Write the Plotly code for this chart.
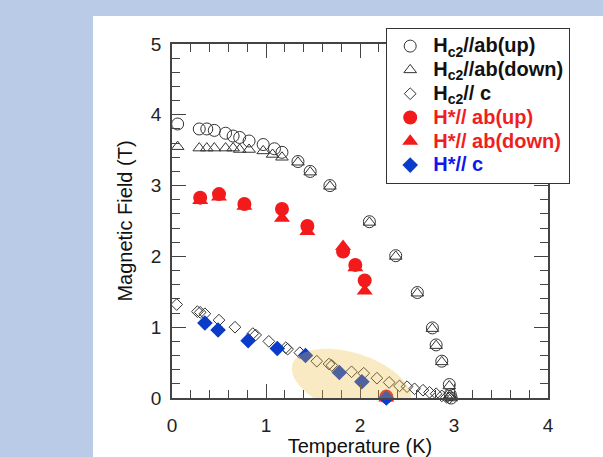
import numpy as np
import plotly.graph_objects as go

# ---------------- data ----------------
hc2_ab_up_T = [0.06, 0.29, 0.37, 0.45, 0.57, 0.65, 0.72, 0.82, 0.97, 1.09, 1.17,
               1.34, 1.47, 1.68, 2.10, 2.38, 2.61, 2.77, 2.81, 2.87, 2.95, 2.96, 2.97]
hc2_ab_up_H = [3.87, 3.80, 3.80, 3.78, 3.74, 3.70, 3.68, 3.63, 3.58, 3.52, 3.47,
               3.34, 3.20, 3.00, 2.49, 2.01, 1.49, 0.99, 0.75, 0.52, 0.19, 0.05, 0.0]

hc2_ab_down_T = [0.06, 0.29, 0.37, 0.45, 0.57, 0.65, 0.72, 0.82, 0.97, 1.07, 1.17,
                 1.34, 1.47, 1.68, 2.10, 2.38, 2.61, 2.77, 2.81, 2.87, 2.95, 2.96, 2.97]
hc2_ab_down_H = [3.55, 3.53, 3.53, 3.53, 3.53, 3.53, 3.51, 3.51, 3.49, 3.44, 3.40,
                 3.33, 3.19, 2.99, 2.48, 2.00, 1.48, 0.98, 0.74, 0.51, 0.17, 0.04, 0.0]

hc2_c_T = [0.05, 0.27, 0.30, 0.35, 0.50, 0.67, 0.86, 0.89, 1.03, 1.21, 1.23, 1.36,
           1.54, 1.67, 1.70, 1.91, 2.04, 2.18, 2.31, 2.42, 2.50, 2.58, 2.67, 2.74,
           2.81, 2.87, 2.92, 2.95]
hc2_c_H = [1.32, 1.22, 1.21, 1.19, 1.10, 1.00, 0.91, 0.89, 0.80, 0.71, 0.69, 0.64,
           0.52, 0.48, 0.46, 0.37, 0.35, 0.28, 0.22, 0.17, 0.16, 0.13, 0.11, 0.08,
           0.06, 0.03, 0.01, 0.0]

hs_ab_up_T = [0.30, 0.50, 0.77, 1.17, 1.44, 1.82, 1.95, 2.05, 2.28]
hs_ab_up_H = [2.83, 2.88, 2.74, 2.67, 2.43, 2.07, 1.88, 1.66, 0.02]

hs_ab_down_T = [0.30, 0.50, 0.77, 1.17, 1.44, 1.82, 1.95, 2.05, 2.28]
hs_ab_down_H = [2.79, 2.84, 2.71, 2.54, 2.35, 2.14, 1.84, 1.51, 0.0]

hs_c_T = [0.35, 0.49, 0.81, 1.12, 1.42, 1.78, 2.02, 2.28]
hs_c_H = [1.06, 0.96, 0.81, 0.70, 0.60, 0.36, 0.23, 0.0]

x_ticks = [0, 1, 2, 3, 4]
y_ticks = [0, 1, 2, 3, 4, 5]

# highlight ellipse (centre in data units)
ell_cx, ell_cy = 1.91, 0.21

# ---------------- layout geometry ----------------
W, H = 603, 457
ML, MR, MT, MB = 172, 55, 44, 59
PW, PH = W - ML - MR, H - MT - MB
XR, YR = [0, 4], [0, 5]

FONT = "Liberation Sans, Arial, Helvetica, sans-serif"
OPEN_LINE = "#333333"
RED = "#F21A1A"
BLUE = "#0B3BC9"
LEG_PX = 20

fig = go.Figure()

def add(x, y, label, symbol, size, color, text_color="#111111", open_line=False):
    marker = dict(symbol=symbol, size=size, color=color)
    marker["line"] = dict(color=color, width=1) if open_line else dict(width=0)
    name = (f"<b><span style='font-size:{LEG_PX}px;color:{text_color}'>"
            f"{label}</span></b>")
    fig.add_trace(go.Scatter(x=x, y=y, mode="markers", name=name,
                             marker=marker, cliponaxis=False))

add(hc2_ab_up_T, hc2_ab_up_H, "H<sub>c2</sub>//ab(up)", "circle-open", 12,
    OPEN_LINE, open_line=True)
add(hc2_ab_down_T, hc2_ab_down_H, "H<sub>c2</sub>//ab(down)", "triangle-up-open", 11,
    OPEN_LINE, open_line=True)
add(hc2_c_T, hc2_c_H, "H<sub>c2</sub>// c", "diamond-open", 9,
    OPEN_LINE, open_line=True)
add(hs_ab_up_T, hs_ab_up_H, "H*// ab(up)", "circle", 14, RED, text_color="#F01E1E")
add(hs_ab_down_T, hs_ab_down_H, "H*// ab(down)", "triangle-up", 14, RED,
    text_color="#F01E1E")
add(hs_c_T, hs_c_H, "H*// c", "diamond", 12, BLUE, text_color="#1414EE")

# ellipse path computed in pixel space then mapped to data units
ppx = PW / (XR[1] - XR[0])
ppy = PH / (YR[1] - YR[0])
a_px, b_px, th = 62.0, 30.0, np.deg2rad(18.0)
phi = np.linspace(0, 2 * np.pi, 73)
dx = a_px * np.cos(phi) * np.cos(th) - b_px * np.sin(phi) * np.sin(th)
dy = a_px * np.cos(phi) * np.sin(th) + b_px * np.sin(phi) * np.cos(th)
ex = ell_cx + dx / ppx
ey = ell_cy - dy / ppy
path = "M " + " L ".join(f"{x:.4f},{y:.4f}" for x, y in zip(ex, ey)) + " Z"

shapes = [
    # white panel on light-blue page
    dict(type="rect", xref="paper", yref="paper",
         x0=(93 - ML) / PW, x1=(W + 5 - ML) / PW,
         y0=-0.3, y1=(H - MB - 16) / PH,
         fillcolor="white", line=dict(width=0), layer="below"),
    dict(type="path", xref="x", yref="y", path=path,
         fillcolor="rgba(240,185,60,0.30)", line=dict(width=0), layer="above"),
]

axis_common = dict(
    showline=True, linecolor="#444444", linewidth=1.5, mirror="ticks",
    ticks="inside", ticklen=14, tickwidth=1.3, tickcolor="#444444",
    showgrid=False, zeroline=False,
    tickfont=dict(family=FONT, size=19, color="#222222"),
    minor=dict(ticks="inside", ticklen=8, tickwidth=1.2, tickcolor="#444444", dtick=0.2),
)

fig.update_layout(
    width=W, height=H,
    margin=dict(l=ML, r=MR, t=MT, b=MB, autoexpand=False),
    paper_bgcolor="#B9CBE6", plot_bgcolor="white",
    shapes=shapes,
    xaxis=dict(range=XR, tickvals=x_ticks, ticktext=[str(v) for v in x_ticks],
               ticklabelstandoff=9,
               title=dict(text="Temperature (K)", standoff=13,
                          font=dict(family=FONT, size=20, color="#111111")),
               **axis_common),
    yaxis=dict(range=YR, tickvals=y_ticks, ticktext=[str(v) for v in y_ticks],
               ticklabelstandoff=5,
               title=dict(text="Magnetic Field (T)", standoff=13,
                          font=dict(family=FONT, size=20, color="#111111")),
               **axis_common),
    legend=dict(x=(386 - ML) / PW, y=(H - MB - 28) / PH, xanchor="left", yanchor="top",
                bgcolor="white", bordercolor="#333333", borderwidth=1.2,
                font=dict(family=FONT, size=16, color="#111111"),
                tracegroupgap=0, itemsizing="trace", itemwidth=36),
    showlegend=True,
)

fig.write_html(
    "out.html",
    config={"displayModeBar": False},
    post_script="document.body.style.margin='0';document.body.style.overflow='hidden';",
)
